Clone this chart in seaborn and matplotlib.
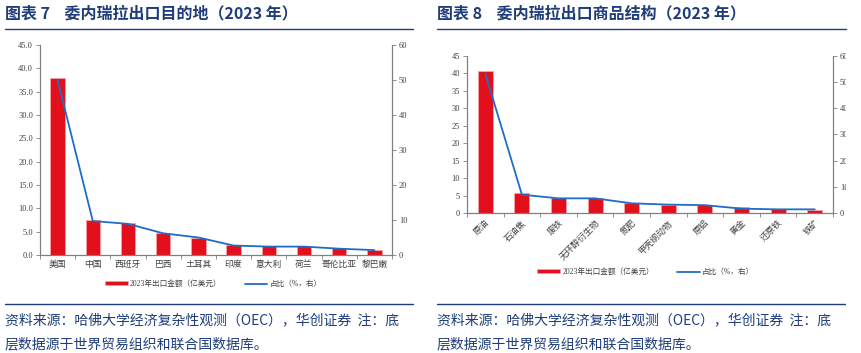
import numpy as np
import pandas as pd
import matplotlib
matplotlib.use('Agg')
import matplotlib.pyplot as plt
import seaborn as sns
from matplotlib.patches import Patch, Rectangle
from matplotlib.lines import Line2D

sns.set_style('white')
plt.rcParams['font.family'] = ['Liberation Serif', 'Noto Sans CJK SC', 'DejaVu Sans']

# data
dest_names = ['美国', '中国', '西班牙', '巴西', '土耳其', '印度', '意大利', '荷兰', '哥伦比亚', '黎巴嫩']
dest_value = [38.0, 7.4, 6.8, 4.8, 3.7, 2.1, 1.9, 1.9, 1.4, 1.1]
dest_share = [50.0, 9.7, 8.9, 6.2, 5.0, 2.7, 2.4, 2.4, 1.8, 1.4]

prod_names = ['原油', '石油焦', '废铁', '无环醇衍生物', '氮肥', '甲壳纲动物', '原铝', '黄金', '还原铁', '铁矿']
prod_value = [40.6, 5.6, 4.2, 4.2, 2.85, 2.4, 2.3, 1.6, 1.2, 0.95]
prod_share = [53.3, 7.0, 5.6, 5.6, 3.7, 3.2, 3.0, 1.65, 1.4, 1.4]

titles = ['图表 7    委内瑞拉出口目的地（2023 年）', '图表 8    委内瑞拉出口商品结构（2023 年）']
bar_label = '2023年出口金额（亿美元）'
line_label = '占比（%，右）'
source_1 = '资料来源：哈佛大学经济复杂性观测（OEC），华创证券  注：底'
source_2 = '层数据源于世界贸易组织和联合国数据库。'

W, H = 862, 353
RED = '#E3101B'
BLUE = '#1F6DC4'
NAVY = '#1F3D7A'
GRAY = '#7F7F7F'
TXT = '#404040'

fig = plt.figure(figsize=(W / 100, H / 100), dpi=100)


def px_axes(x0, y0, x1, y1):
    return fig.add_axes([x0 / W, 1 - y1 / H, (x1 - x0) / W, (y1 - y0) / H])


def make_panel(ax, names, values, shares, yfmt, ystep, rot):
    df = pd.DataFrame({'name': names, 'value': values, 'share': shares})
    sns.barplot(data=df, x='name', y='value', ax=ax, color=RED, width=0.41,
                saturation=1, edgecolor='#F7A3A6', linewidth=0.6)
    ax.set_ylim(0, 45)
    ax.set_yticks(np.arange(0, 45.1, ystep))
    ax.yaxis.set_major_formatter(matplotlib.ticker.FormatStrFormatter(yfmt))
    ax.set_xlabel('')
    ax.set_ylabel('')
    ax2 = ax.twinx()
    ax2.plot(range(len(names)), df['share'], color=BLUE, lw=1.3)
    ax2.set_ylim(0, 60)
    ax2.set_yticks(np.arange(0, 61, 10))
    ax.set_xlim(-0.5, len(names) - 0.5)
    for a in (ax, ax2):
        a.spines['top'].set_visible(False)
        for s in ['left', 'right', 'bottom']:
            a.spines[s].set_color(GRAY)
            a.spines[s].set_linewidth(0.8)
    ax.tick_params(axis='y', direction='out', length=3, width=0.6, color=GRAY,
                   labelsize=6, labelcolor=TXT, pad=2, left=True)
    ax2.tick_params(axis='y', direction='out', length=3, width=0.6, color=GRAY,
                    labelsize=6, labelcolor=TXT, pad=2)
    ax.set_xticks(np.arange(-0.5, len(names), 1), minor=True)
    ax.tick_params(axis='x', which='minor', direction='out', length=3, width=0.6,
                   color=GRAY, bottom=True)
    ax.tick_params(axis='x', which='major', length=0, labelsize=6.3,
                   labelcolor=TXT, pad=4)
    if rot:
        for lab in ax.get_xticklabels():
            lab.set_rotation(45)
            lab.set_ha('right')
            lab.set_rotation_mode('anchor')
    ax.grid(False)
    ax2.grid(False)


ax_l = px_axes(40, 45, 392, 255)
make_panel(ax_l, dest_names, dest_value, dest_share, '%.1f', 5, False)
ax_r = px_axes(467, 56, 833, 213)
make_panel(ax_r, prod_names, prod_value, prod_share, '%d', 5, True)

# titles, rules, legends, sources
handles = [Patch(facecolor=RED, edgecolor='#F7A3A6', lw=0.5),
           Line2D([0], [0], color=BLUE, lw=1.3)]
for x0, x1, leg_y, tt in [(5, 413, 284, titles[0]), (437, 846, 272, titles[1])]:
    fig.text(x0 / W, 1 - 13 / H, tt, fontsize=11.5, fontweight='bold', color=NAVY,
             family=['Noto Sans CJK SC'], va='center', ha='left')
    fig.add_artist(Line2D([x0 / W, x1 / W], [1 - 29 / H, 1 - 29 / H], color=NAVY, lw=1))
    fig.add_artist(Line2D([x0 / W, x1 / W], [1 - 304 / H, 1 - 304 / H], color=NAVY, lw=1))
    fig.legend(handles, [bar_label, line_label], loc='center',
               bbox_to_anchor=((x0 + x1) / 2 / W + 0.005, 1 - leg_y / H), ncol=2,
               frameon=False, fontsize=5.5, handlelength=3, handleheight=0.35,
               columnspacing=3, handletextpad=0.3, labelcolor=TXT)
    fig.text(x0 / W, 1 - 320 / H, source_1, fontsize=10, color=NAVY, style='italic',
             family=['Noto Sans CJK SC'], va='center', ha='left')
    fig.text(x0 / W, 1 - 344 / H, source_2, fontsize=10, color=NAVY, style='italic',
             family=['Noto Sans CJK SC'], va='center', ha='left')

# right edge of the reference is cropped
fig.add_artist(Rectangle((846 / W, 40 / H), 16 / W, 1 - 80 / H, transform=fig.transFigure,
                         facecolor='white', edgecolor='none', zorder=20))

fig.savefig('out.png', dpi=100)
